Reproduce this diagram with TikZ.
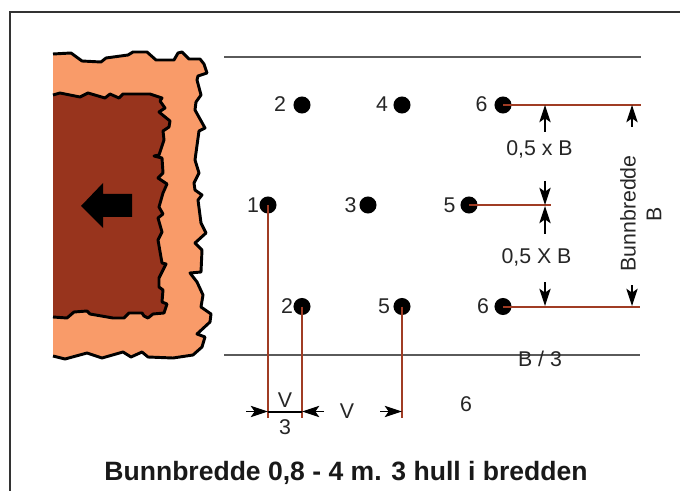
\documentclass[tikz,border=0pt]{standalone}
\usepackage{fontspec}
\setmainfont{Liberation Sans}
\usetikzlibrary{arrows.meta}
\definecolor{rock}{HTML}{F99B69}
\definecolor{core}{HTML}{98341D}
\definecolor{drill}{HTML}{A03C24}
\definecolor{rule}{HTML}{5A5A5A}
\definecolor{frameC}{HTML}{333333}
\tikzset{
  hole/.style={circle,fill=black,inner sep=0pt,minimum size=12.8pt},
  lbl/.style={font=\fontsize{16pt}{18pt}\selectfont,text=black!85,inner sep=0pt},
  rim/.style={draw=black,line width=2.2pt,line join=round},
  drillline/.style={draw=drill,line width=1.5pt},
  hline/.style={draw=rule,line width=0.9pt},
  dim/.style={draw=black,line width=0.9pt,-{Stealth[length=13pt,width=8.5pt,inset=3pt]}}
}
\begin{document}
\begin{tikzpicture}[x=0.75pt,y=-0.75pt]
\useasboundingbox (0,0) rectangle (680,491);
\fill[white] (0,0) rectangle (680,491);
\draw[frameC,line width=2pt] (10,491) -- (10,12) -- (680,12);
% rock outline
\def\outerpath{(53,54) -- (71,53) -- (82,61) -- (101,62) -- (106,58) -- (128,55) -- (133,52) -- (147,52) -- (156,60) -- (174,60) -- (178,53) -- (182,52) -- (189,59) -- (200,59) -- (204,64) -- (207,73) -- (198,76) -- (197,80) -- (201,95) -- (196,102) -- (195,110) -- (205,128) -- (199,131) -- (195,160) -- (199,173) -- (194,183) -- (195,190) -- (202,195) -- (198,200) -- (201,223) -- (206,233) -- (195,243) -- (202,250) -- (201,272) -- (190,273) -- (197,282) -- (203,295) -- (201,307) -- (211,314) -- (210,322) -- (197,334) -- (205,337) -- (202,347) -- (193,355) -- (173,358) -- (148,357) -- (142,352) -- (131,357) -- (123,352) -- (102,358) -- (87,353) -- (65,359) -- (53,356)}
\def\innerpath{(53,95) -- (60,93) -- (80,97) -- (88,93) -- (105,98) -- (110,94) -- (119,98) -- (123,94) -- (150,94) -- (162,98) -- (160,101) -- (165,108) -- (159,112) -- (170,121) -- (169,127) -- (163,131) -- (164,140) -- (159,155) -- (154,156) -- (162,158) -- (163,173) -- (158,178) -- (167,184) -- (163,193) -- (159,207) -- (163,214) -- (158,218) -- (162,232) -- (158,240) -- (162,263) -- (166,264) -- (159,278) -- (159,287) -- (163,290) -- (162,302) -- (167,304) -- (164,313) -- (153,314) -- (148,318) -- (144,316) -- (142,313) -- (129,313) -- (124,318) -- (113,318) -- (90,314) -- (87,311) -- (74,312) -- (67,318) -- (53,317)}
\fill[rock] \outerpath -- cycle;
\fill[core] \innerpath -- cycle;
\draw[rim] \outerpath;
\draw[rim] \innerpath;
\fill[black] (81,206) -- (103,183) -- (103,194) -- (132,194) -- (132,217) -- (103,217) -- (103,228) -- cycle;
% rules
\coordinate (tl) at (224,57); \coordinate (tr) at (641,57);
\coordinate (bl) at (224,355); \coordinate (br) at (640,355);
\draw[hline] (tl) -- (tr);
\draw[hline] (bl) -- (br);
% holes
\node[hole] (a2) at (302,105) {};
\node[hole] (a4) at (402,105) {};
\node[hole] (a6) at (503,105) {};
\node[hole] (b1) at (268,205) {};
\node[hole] (b3) at (368,205) {};
\node[hole] (b5) at (469,205) {};
\node[hole] (c2) at (302,306.5) {};
\node[hole] (c5) at (402,306.5) {};
\node[hole] (c6) at (503,306.5) {};
\foreach \h/\t/\xx/\yy in {a2/2/280/104,a4/4/382/104,a6/6/481.5/104,b1/1/253/205,b3/3/350.5/205,b5/5/449.5/205,c2/2/287/306,c5/5/384/306,c6/6/483/306}
  \node[lbl] (l\h) at (\xx,\yy) {\t};
% drill lines
\coordinate (ar) at (641,105); \coordinate (br2) at (551,205); \coordinate (cr) at (640,306.5);
\coordinate (v1) at (268,418); \coordinate (v2) at (302,418); \coordinate (v3) at (402,418);
\draw[drillline] (a6.center) -- (ar);
\draw[drillline] (b5.center) -- (br2);
\draw[drillline] (c6.center) -- (cr);
\draw[drillline] (b1.center) -- (v1);
\draw[drillline] (c2.center) -- (v2);
\draw[drillline] (c5.center) -- (v3);
% dimension arrows
\coordinate (d1a) at (545,132); \coordinate (d1b) at (545,105);
\coordinate (d2a) at (545,181); \coordinate (d2b) at (545,205);
\coordinate (d3a) at (545,234); \coordinate (d3b) at (545,206);
\coordinate (d4a) at (545,282); \coordinate (d4b) at (545,306);
\coordinate (d5a) at (632,127); \coordinate (d5b) at (632,105);
\coordinate (d6a) at (632,285); \coordinate (d6b) at (632,306);
\coordinate (h1a) at (246,411.5); \coordinate (h1b) at (268,411.5);
\coordinate (h2a) at (324,411.5); \coordinate (h2b) at (302,411.5);
\coordinate (h3a) at (380,411.5); \coordinate (h3b) at (402,411.5);
\foreach \p/\q in {d1a/d1b,d2a/d2b,d3a/d3b,d4a/d4b,d5a/d5b,d6a/d6b,h1a/h1b,h2a/h2b,h3a/h3b}
  \draw[dim] (\p) -- (\q);
\draw[black,line width=1.5pt] (h1b) -- (h2b);
% texts
\node[lbl] (t1) at (539.5,149.5) {0,5 x B};
\node[lbl] (t2) at (536.5,257.5) {0,5 X B};
\node[lbl,rotate=90] (t3) at (628,213.5) {Bunnbredde};
\node[lbl,rotate=90] (t4) at (654,214) {B};
\node[lbl] (t5) at (540,359) {B / 3};
\node[lbl] (t6) at (285,400) {V};
\node[lbl] (t7) at (285,427) {3};
\node[lbl] (t8) at (347,411) {V};
\node[lbl] (t9) at (466,404) {6};
\node[font=\bfseries\fontsize{19.9pt}{22pt}\selectfont,text=black!90,inner sep=0pt] (title) at (346,472.5) {Bunnbredde 0,8 - 4 m. 3 hull i bredden};
\end{tikzpicture}
\end{document}
